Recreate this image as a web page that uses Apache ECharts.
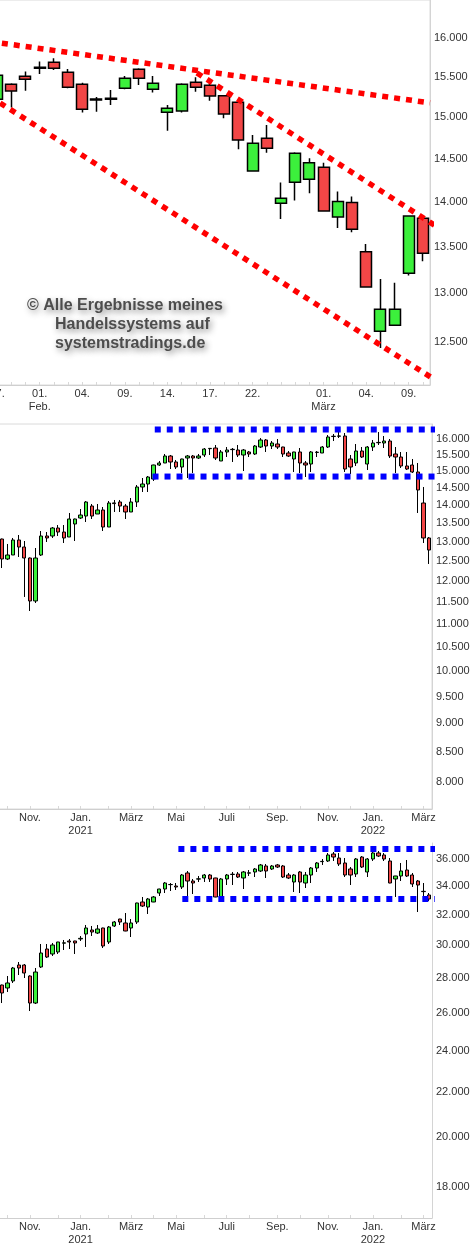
<!DOCTYPE html>
<html><head><meta charset="utf-8">
<script src="https://cdn.jsdelivr.net/npm/echarts@6/dist/echarts.min.js"></script>
<style>html,body{margin:0;padding:0;background:#fff}#c{width:475px;height:1250px}</style>
</head><body><div id="c"></div>
<script>
// ---------- Panel 1: daily DAX ----------
const dailyDates = ['2022-01-27','2022-01-28','2022-01-31','2022-02-01','2022-02-02','2022-02-03','2022-02-04','2022-02-07','2022-02-08','2022-02-09','2022-02-10','2022-02-11','2022-02-14','2022-02-15','2022-02-16','2022-02-17','2022-02-18','2022-02-21','2022-02-22','2022-02-23','2022-02-24','2022-02-25','2022-02-28','2022-03-01','2022-03-02','2022-03-03','2022-03-04','2022-03-07','2022-03-08','2022-03-09','2022-03-10'];
const dailyOpen  = [15220,15406,15507,15607,15684,15557,15406,15211,15220,15356,15595,15344,15060,15076,15431,15394,15264,15183,14358,14745,13987,14227,14262,14401,13832,13995,13447,12607,12668,13215,13817];
const dailyClose = [15520,15323,15469,15620,15607,15369,15097,15223,15232,15481,15481,15418,15109,15406,15369,15260,15039,14725,14686,14626,14044,14567,14456,13900,14006,13695,13068,12833,12833,13843,13432];
const dailyLow   = [15180,15117,15326,15535,15586,15356,15056,15067,15150,15344,15397,15302,14836,15056,15314,15202,14987,14614,14358,14574,13810,14017,14101,13895,13709,13662,13060,12437,12668,13190,13343];
const dailyHigh  = [15560,15420,15565,15692,15734,15599,15426,15248,15335,15510,15607,15510,15150,15418,15494,15418,15273,15211,14785,14905,14224,14580,14508,14456,14120,14063,13532,13153,13114,13850,13825];
const dailyTickLabels = {'2022-01-27':'27.','2022-02-01':'01.\nFeb.','2022-02-04':'04.','2022-02-09':'09.','2022-02-14':'14.','2022-02-17':'17.','2022-02-22':'22.','2022-03-01':'01.\nMärz','2022-03-04':'04.','2022-03-09':'09.'};
const dailyYLabels = [12500,13000,13500,14000,14500,15000,15500,16000];
const dailyYRange = [12068, 16497];
// trend lines [category index, value]
const trendUpper = [[-0.5,15950],[30.5,15175]];
const trendMiddle = [[14.08,15548],[31.56,13665]];
const trendLower = [[-0.5,15253],[31.2,12088]];

// ---------- weekly categories ----------
const weeklyDates = ['2020-09-21','2020-09-28','2020-10-05','2020-10-12','2020-10-19','2020-10-26','2020-11-02','2020-11-09','2020-11-16','2020-11-23','2020-11-30','2020-12-07','2020-12-14','2020-12-21','2020-12-28',
'2021-01-04','2021-01-11','2021-01-18','2021-01-25','2021-02-01','2021-02-08','2021-02-15','2021-02-22','2021-03-01','2021-03-08','2021-03-15','2021-03-22','2021-03-29','2021-04-05','2021-04-12','2021-04-19','2021-04-26','2021-05-03','2021-05-10','2021-05-17','2021-05-24','2021-05-31','2021-06-07','2021-06-14','2021-06-21','2021-06-28','2021-07-05','2021-07-12','2021-07-19','2021-07-26','2021-08-02','2021-08-09','2021-08-16','2021-08-23','2021-08-30','2021-09-06','2021-09-13','2021-09-20','2021-09-27','2021-10-04','2021-10-11','2021-10-18','2021-10-25','2021-11-01','2021-11-08','2021-11-15','2021-11-22','2021-11-29','2021-12-06','2021-12-13','2021-12-20','2021-12-27',
'2022-01-03','2022-01-10','2022-01-17','2022-01-24','2022-01-31','2022-02-07','2022-02-14','2022-02-21','2022-02-28','2022-03-07'];
const weeklyTickLabels = {'2020-10-26':'Nov.','2020-12-28':'Jan.\n2021','2021-03-01':'März','2021-04-26':'Mai','2021-06-28':'Juli','2021-08-30':'Sep.','2021-11-01':'Nov.','2021-12-27':'Jan.\n2022','2022-02-28':'März'};
const weeklyMonthTicks = ['2020-09-28','2020-10-26','2020-11-30','2020-12-28','2021-02-01','2021-03-01','2021-03-29','2021-04-26','2021-05-31','2021-06-28','2021-07-26','2021-08-30','2021-09-27','2021-11-01','2021-11-29','2021-12-27','2022-01-31','2022-02-28'];

// ---------- Panel 2: weekly DAX ----------
const daxOpen  = [13070,12552,12654,13044,12860,12577,11530,12654,13150,13150,13364,13256,13123,13473,13637,13692,13972,13748,13860,13391,14060,14086,13972,13804,14086,14520,14608,14757,15180,15242,15459,15273,15119,15397,15459,15397,15491,15690,15711,15304,15585,15660,15648,15491,15585,15522,15743,15968,15775,15839,15743,15553,15366,15585,15242,15211,15570,15553,15743,16080,16090,16097,15366,15242,15616,15211,15743,15880,15871,15935,15522,15428,15150,15180,14967,14057,13097];
const daxClose = [12552,12654,13044,12860,12577,11530,12577,13150,13097,13364,13256,13097,13610,13610,13720,14086,13692,13860,13391,14057,14040,13972,13804,14086,14520,14608,14816,15180,15242,15459,15273,15119,15366,15459,15397,15459,15679,15700,15397,15585,15648,15670,15491,15648,15522,15775,15968,15775,15871,15743,15522,15459,15585,15242,15180,15585,15580,15743,16065,16090,16100,15058,15119,15616,15428,15743,15871,15890,15935,15459,15428,15150,15058,14967,14432,13097,12782];
const daxLow   = [12325,12526,12654,12603,11624,11299,11483,12628,12991,13097,13150,12965,13123,13017,13610,13527,13610,13748,13283,13391,13804,13804,13610,13804,13944,14374,14374,14697,15150,15242,15058,15058,14937,14786,14937,15366,15428,15491,15335,15304,15428,15273,15428,14997,15428,15491,15711,15585,15679,15679,15428,15428,14967,14937,14816,14967,15428,15553,15711,15935,16032,14967,14907,15150,15397,15028,15616,15807,15711,15397,14937,15089,15028,14937,13776,12965,12426];
const daxHigh  = [13080,12939,13097,13176,13017,12590,12834,13283,13256,13391,13445,13445,13776,13620,13887,14114,14029,14029,13944,14114,14143,14143,14029,14200,14578,14786,14846,15190,15304,15522,15491,15335,15375,15491,15491,15522,15711,15711,15807,15648,15743,15711,15807,15679,15616,15807,16030,16000,15935,16000,15750,15616,15590,15711,15304,15616,15616,15775,16130,16162,16393,16195,15491,15839,15743,15775,15968,16227,16097,16000,15743,15585,15585,15366,15242,14520,13123];
const daxYLabels = [8000,8500,9000,9500,10000,10500,11000,11500,12000,12500,13000,13500,14000,14500,15000,15500,16000];
const daxYRange = [7570, 16493];
const daxBandUpper = [[27.2,16310],[77.4,16310]];
const daxBandLower = [[26.8,14830],[77.4,14830]];

// ---------- Panel 3: weekly Dow Jones ----------
const dowOpen  = [27578,27404,27813,28769,28769,28108,26547,28650,29760,29447,29572,30130,30268,30268,30400,30719,30980,30784,31112,30204,31244,31709,31443,31112,31509,32871,32524,32871,33502,33786,34100,34001,33930,34950,34363,34500,34582,34802,34582,33220,34509,34840,34876,34582,34940,35024,35098,35471,35247,35546,35471,34802,34291,35024,34218,34802,35321,35800,35848,36383,36076,35697,35247,34876,36152,35024,36000,36460,36306,35848,34509,34729,35172,34802,34363,33620,33361];
const dowClose = [27116,27696,28587,28587,28286,26547,28346,29509,29260,30013,30204,30150,30204,30141,30440,31112,30850,31046,29950,31178,31509,31509,30915,31443,32801,32593,33080,33220,33786,34218,34110,33930,34802,34363,34218,34520,34802,34509,33220,34509,34802,34860,34655,35024,34960,35247,35546,35098,35471,35396,34655,34582,34802,34291,34802,35321,35697,35820,36306,36152,35622,34802,34802,36000,35396,36000,36460,36229,36000,34218,34729,35098,34729,34146,34073,33600,33080];
const dowLow   = [26547,27173,27696,28167,27989,26101,26491,28587,29198,29322,29447,29697,29760,29447,30268,29887,30590,30719,29823,30077,31178,31310,30900,30525,31376,32524,32047,32860,33290,33502,33644,33715,33786,33290,33431,34291,34291,34291,33200,33150,34073,34073,34582,33786,34729,34655,35024,34582,35172,35321,34582,34509,33573,33502,33858,34218,35024,35546,35772,35848,35471,34655,34073,34655,35321,34655,35848,36152,35848,34200,33220,34363,34655,33930,32182,33220,32940];
const dowHigh  = [27600,28108,28650,28952,28830,28150,28587,30077,30077,30141,30210,30332,30396,30280,30590,31310,31244,31310,31130,31244,31575,31720,32114,31709,32820,33220,33150,33290,33800,34291,34218,34218,34876,35098,34509,34729,34876,34876,34600,34582,34876,35024,35024,35098,35172,35321,35622,35622,35546,35622,35546,34950,34876,35098,35024,35396,35772,36000,36460,36537,36460,36076,35396,36076,36229,36076,36614,36614,36460,36076,34740,35697,35924,34950,34436,34218,33502];
const dowYLabels = [18000,20000,22000,24000,26000,28000,30000,32000,34000,36000];
const dowYRange = [16848, 37239];
const dowBandUpper = [[31.4,36770],[77.4,36770]];
const dowBandLower = [[32.1,33080],[77.4,33080]];

// ---------- rendering ----------
const FONT = '"Liberation Sans", Arial, sans-serif';
const GREEN = '#3cf03c', RED = '#f24646';
function fmt(v){ return String(Math.round(v)).replace(/\B(?=(\d{3})+(?!\d))/g,'.'); }
function ohlc(o,c,l,h){ return o.map((v,i)=>[v,c[i],l[i],h[i]]); }

function catAxis(grid, data, labels, tickFn){
  return {
    type:'category', gridIndex:grid, data:data, boundaryGap:true,
    axisLine:{show:true, onZero:false, lineStyle:{color:'#cfcfcf', width:1}},
    axisTick:{show:true, inside:true, length:3, alignWithLabel:true, interval:tickFn, lineStyle:{color:'#d8d8d8'}},
    axisLabel:{interval:(i,v)=>labels[v]!==undefined, formatter:(v)=>labels[v]||'',
      fontSize:11, fontFamily:FONT, color:'#333', margin:3, lineHeight:12.5, hideOverlap:false},
    splitLine:{show:false}
  };
}
function hiddenX(grid, n){ return {type:'value', gridIndex:grid, min:-0.5, max:n-0.5, show:false, axisLine:{onZero:false}}; }
function logY(grid, range, labels){
  return {
    type:'log', gridIndex:grid, position:'right', min:range[0], max:range[1],
    axisLine:{show:true, onZero:false, lineStyle:{color:'#d4d4d4', width:1}},
    axisTick:{show:false}, splitLine:{show:false}, minorTick:{show:false},
    axisLabel:{customValues:labels, formatter:(v)=>fmt(v), fontSize:11, fontFamily:FONT, color:'#333', margin:4}
  };
}
function candles(xi, yi, data, bw, border){
  return {type:'candlestick', xAxisIndex:xi, yAxisIndex:yi, data:data, barWidth:bw, z:3,
    itemStyle:{color:GREEN, color0:RED, borderColor:'#000', borderColor0:'#000', borderColorDoji:'#000', borderWidth:border}};
}
function dotted(xi, yi, data, color, width){
  return {type:'line', xAxisIndex:xi, yAxisIndex:yi, data:data, symbol:'none', clip:false, silent:true, z:5,
    lineStyle:{color:color, width:width, type:[6,6], cap:'butt'}};
}
function mark(text, left, top){
  return {type:'text', left:left, top:top, z:10, silent:true,
    style:{text:text, font:'bold 16px '+FONT, fill:'#4d4d4d',
      textShadowColor:'rgba(0,0,0,0.45)', textShadowBlur:6, textShadowOffsetX:2, textShadowOffsetY:3}};
}

const chart = echarts.init(document.getElementById('c'), null, {renderer:'canvas'});
chart.setOption({
  animation:false,
  backgroundColor:'#fff',
  grid:[
    {left:-10, top:0, width:440, height:385, show:true, borderColor:'#dadada', borderWidth:1, containLabel:false, outerBoundsMode:'none'},
    {left:-1, top:424, width:433, height:385, show:true, borderColor:'#dadada', borderWidth:1, containLabel:false, outerBoundsMode:'none'},
    {left:-1, top:843, width:433, height:375, show:false, containLabel:false, outerBoundsMode:'none'}
  ],
  xAxis:[
    catAxis(0, dailyDates, dailyTickLabels, 0),
    catAxis(1, weeklyDates, weeklyTickLabels, (i,v)=>weeklyMonthTicks.indexOf(v)>=0),
    catAxis(2, weeklyDates, weeklyTickLabels, (i,v)=>weeklyMonthTicks.indexOf(v)>=0),
    hiddenX(0, dailyDates.length),
    hiddenX(1, weeklyDates.length),
    hiddenX(2, weeklyDates.length)
  ],
  yAxis:[
    logY(0, dailyYRange, dailyYLabels),
    logY(1, daxYRange, daxYLabels),
    logY(2, dowYRange, dowYLabels)
  ],
  graphic:[
    mark('© Alle Ergebnisse meines', 27, 298),
    mark('Handelssystems auf', 55, 317),
    mark('systemstradings.de', 55, 336)
  ],
  series:[
    candles(0, 0, ohlc(dailyOpen, dailyClose, dailyLow, dailyHigh), 11.5, 1.5),
    dotted(3, 0, trendUpper, '#ff0000', 5.5),
    dotted(3, 0, trendMiddle, '#ff0000', 5.5),
    dotted(3, 0, trendLower, '#ff0000', 5.5),
    candles(1, 1, ohlc(daxOpen, daxClose, daxLow, daxHigh), 3.8, 1),
    dotted(4, 1, daxBandUpper, '#0000ff', 6),
    dotted(4, 1, daxBandLower, '#0000ff', 6),
    candles(2, 2, ohlc(dowOpen, dowClose, dowLow, dowHigh), 3.8, 1),
    dotted(5, 2, dowBandUpper, '#0000ff', 6),
    dotted(5, 2, dowBandLower, '#0000ff', 6)
  ]
});
</script>
</body></html>
